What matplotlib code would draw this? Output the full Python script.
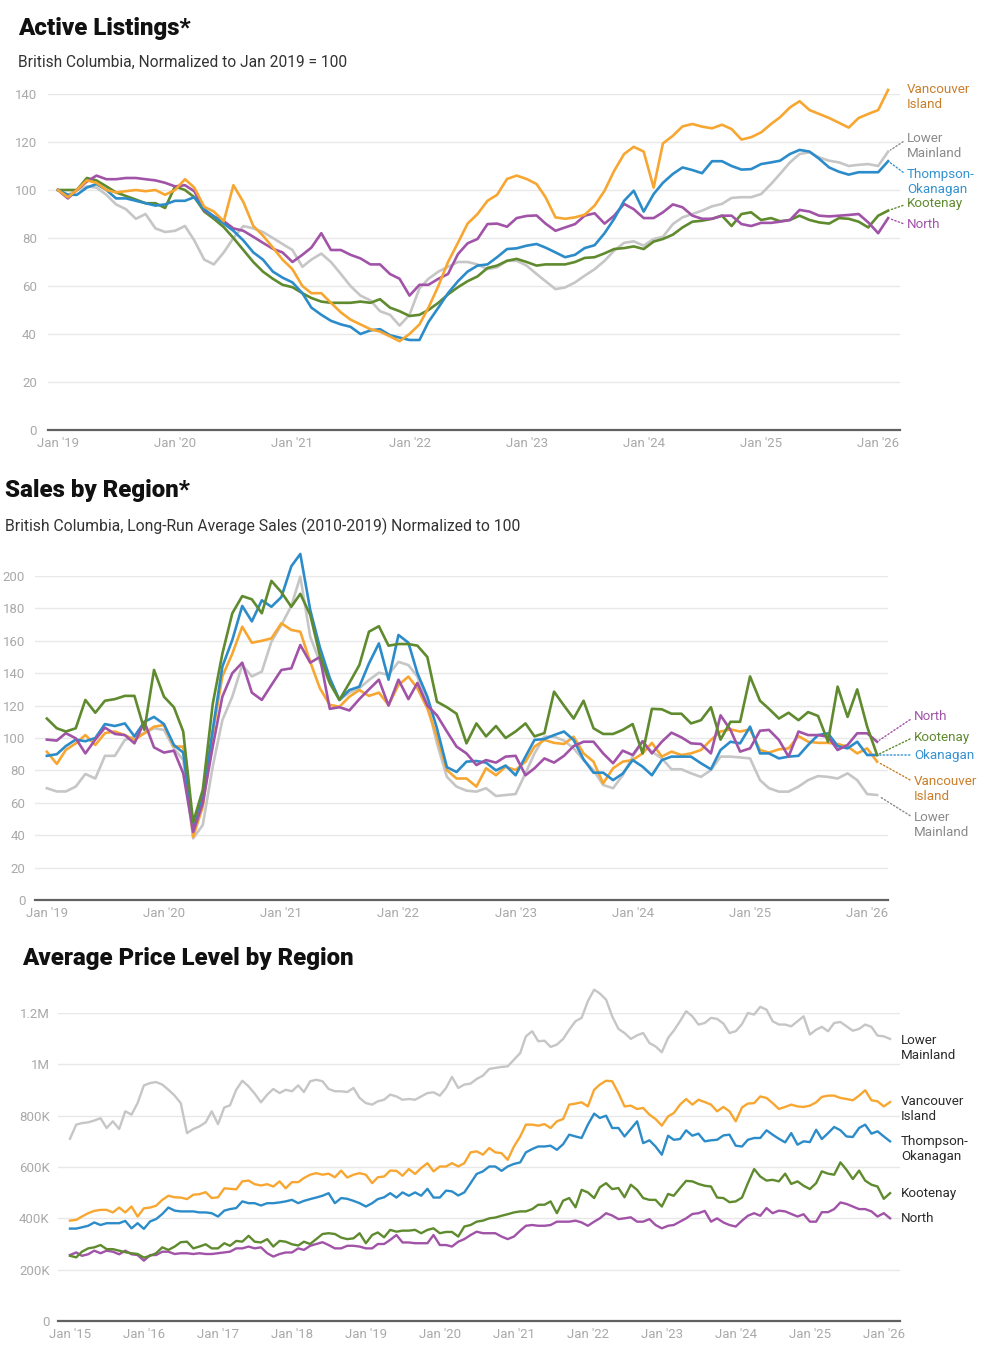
"""Trois panneaux BC : inscriptions actives, ventes, prix moyen par region."""
import numpy as np
import pandas as pd
import matplotlib
matplotlib.use("Agg")
import matplotlib.pyplot as plt
import matplotlib.dates as mdates
from matplotlib.ticker import FuncFormatter

plt.rcParams["font.family"] = ["Roboto", "DejaVu Sans"]

W, H = 992, 1359

# --- Couleurs (ligne, etiquette) ---
C_VI, C_VI_T = "#F7A731", "#C97E2A"
C_LM, C_LM_T = "#C6C6C6", "#8A8A8A"
C_TO, C_TO_T = "#2C8CC9", "#3592D0"
C_KO, C_KO_T = "#5F8A2E", "#5F8A2E"
C_NO, C_NO_T = "#A153A8", "#A153A8"

# --- Active listings (Jan 2019 = 100), mensuel ---
listing_months = pd.date_range("2019-01-01", periods=86, freq="MS")
listings_vi = [100, 97, 100, 104, 103, 100, 99, 99.5, 100, 99.5, 100, 98, 100, 104.5, 101, 93, 91, 87,
               102, 95, 85, 81, 76, 71, 67, 60, 57, 57, 53, 49, 46, 44, 42, 41, 39, 37, 40, 44, 51, 60,
               70, 78, 86, 90, 95.5, 98, 104.6, 106, 104.6, 102.5, 97, 88.6, 88, 88.6, 89.7, 93.5, 99.7,
               108, 115, 118, 116, 101, 119.4, 122.6, 126.5, 127.5, 126.4, 125.7, 127.2, 125.4, 121, 122,
               124, 127.5, 130.3, 134.4, 137, 133.3, 131.7, 130, 128, 126, 130, 131.7, 133.3, 141.7]
listings_lm = [100, 98, 100, 101.5, 101, 98, 94, 92, 88, 90, 84, 82.5, 83, 85, 79, 71, 69, 74, 80, 85,
               84, 82.5, 80, 77.5, 75, 68, 71, 73.5, 70, 65, 60, 56, 54, 49.5, 48, 43.5, 48, 59, 63, 66,
               68, 70, 70, 69, 67, 67.8, 70.5, 70.5, 68.5, 65, 62, 58.7, 59.4, 61.5, 64.3, 67, 70.5, 74.7,
               78, 78.6, 76.8, 79.6, 80.5, 85.8, 88.6, 90, 91.4, 93.2, 94.2, 96.7, 97, 97, 98.3, 102.5,
               106.7, 111.5, 115, 115.7, 113.6, 112.2, 111.5, 110, 110.5, 110.8, 110, 116]
listings_to = [100, 98, 98, 101, 102.5, 100, 96.5, 96.5, 95.5, 94.5, 93.5, 94, 95.5, 95.5, 97, 92, 89,
               86, 83, 79, 74, 71, 66, 63.5, 61.5, 57, 51, 48, 45.5, 44, 43, 40, 41.5, 42, 39.5, 38.5,
               37.5, 37.5, 45, 51, 57, 62, 66, 68.5, 69, 72, 75.4, 75.7, 76.8, 77.5, 76, 74, 72, 73, 75.8,
               77, 82, 88, 95.5, 99.7, 91, 98.3, 103, 106.7, 109.4, 108.3, 107, 112, 112, 110, 108.5,
               108.7, 110.8, 111.5, 112.2, 115, 116.7, 116, 113, 109.4, 107.6, 106.4, 107.4, 107.4,
               107.4, 112]
listings_ko = [100, 100, 100, 105, 104, 101.5, 99, 97.5, 96, 94.5, 94.5, 92.5, 101.5, 100, 97, 91, 88,
               84.5, 80, 75, 70, 66, 63, 60.5, 59.5, 57, 55, 53.5, 53, 53, 53, 53.5, 53, 54.5, 51, 49.5,
               47.5, 48, 50, 53, 56.5, 59.5, 62, 64, 67.5, 68.5, 70.5, 71.3, 70, 68.5, 69, 69, 69, 70,
               71.7, 72, 73.6, 75.4, 75.8, 76.5, 75.4, 78.5, 79.6, 81.4, 84.4, 86.8, 87.2, 88, 89.3, 85,
               90, 90.7, 87.5, 88.3, 87, 87.5, 89.3, 87.5, 86.5, 86, 88.3, 88, 86.8, 84.4, 89.3, 91.4]
listings_no = [100, 96.5, 100, 103.5, 106, 104.5, 104.5, 105, 105, 104.5, 104, 103, 101.5, 102, 99.5,
               91.5, 89, 87, 84, 83, 80.5, 78, 75.5, 74, 70, 73, 76, 82, 75, 75, 73, 71.5, 69, 69, 65,
               63, 56, 60.5, 60.5, 63, 65, 73.3, 77.8, 79.6, 85.8, 86, 84.7, 88.3, 89.2, 89.4, 86, 83,
               84.4, 85.8, 89.3, 90.3, 86, 89.3, 94.2, 92, 88.3, 88.3, 90.7, 94, 92.8, 89.3, 88, 88,
               89.3, 89.3, 85.8, 85, 86.3, 86.3, 86.8, 87.5, 91.7, 91, 89.3, 89, 89.3, 89.6, 90, 86.5,
               82, 88.3]

# --- Sales (moyenne 2010-2019 = 100), mensuel ---
sales_months = pd.date_range("2019-01-01", periods=86, freq="MS")
sales_vi = [91.5, 84, 92.6, 96.7, 101.8, 95.7, 103, 104, 101.8, 98.8, 103, 107, 108, 94.7, 94.7, 39,
            57.6, 103, 138, 152, 168.7, 158.8, 160, 161.5, 170.8, 166.7, 165.6, 147, 130.7, 120.4, 119.3,
            125.5, 129.6, 126, 128, 120.4, 132.7, 137.9, 130.7, 118.3, 100.8, 80.2, 75, 75, 70, 81.3, 77,
            82.3, 80.2, 85.4, 94.7, 98.8, 97, 96.3, 100.8, 90.5, 85.4, 72, 81.3, 85.4, 86.4, 90.5, 97,
            88.5, 91.6, 89.5, 90.5, 92.6, 98.8, 104, 105.3, 104, 105.3, 92.6, 91, 93, 93.6, 101.2, 97.7,
            97, 97, 96.3, 94.7, 90.5, 93.6, 85.4]
sales_lm = [69, 67, 67, 70, 77.8, 75, 89, 89, 98.8, 100.8, 103, 106, 105, 93.6, 86.4, 38, 46.3, 82.3,
            111, 125.5, 145, 138, 141, 159.5, 169.8, 181.5, 199.6, 162.5, 147, 133.7, 123.5, 128, 130.7,
            135.8, 140.3, 139, 147, 145, 137.9, 121.4, 96.7, 76, 70, 67.5, 66.9, 69, 64.2, 64.8, 65.4,
            78.2, 90.5, 100.8, 100.8, 98.4, 93.6, 86.4, 80.2, 71, 69, 77, 88.5, 97.7, 91.6, 87.4, 80.7,
            80.7, 78.2, 76, 80.2, 88.5, 88.5, 88, 87.4, 74, 69, 66.9, 66.9, 70, 74, 76.5, 76, 75, 78.2,
            74, 65.4, 64.8]
sales_to = [89, 90, 95, 99, 98, 100, 108.6, 107.4, 109, 101, 110, 113, 108.6, 95.7, 91, 43, 64, 105,
            144, 160.5, 181.5, 172, 185, 181, 187, 206, 213.6, 179, 156, 137, 123.5, 129.6, 131.7, 146,
            158.4, 136, 163.6, 158.8, 140, 125.5, 106, 82, 79, 85.4, 85.8, 84.8, 80, 83, 77, 88.5, 98.8,
            99.4, 101.8, 104, 98.8, 86.8, 78.6, 78.6, 74, 78, 86.4, 82.3, 77, 86.4, 88.5, 88.5, 88.5,
            84.4, 80.7, 92.6, 97.7, 96.7, 107, 90.5, 90.5, 87.4, 88.5, 89, 95.7, 101.8, 102.9, 95, 93.6,
            97.7, 89.5, 89.5]
sales_ko = [112, 106, 104, 106, 123.5, 115.6, 123, 124, 126, 126, 105, 142, 125.5, 119, 104, 48, 68,
            121, 152, 177, 187.6, 185.6, 177, 197, 190, 181, 189, 176, 151, 134, 123.5, 134, 145, 165.6,
            169, 157, 158, 158, 157, 150, 122.4, 119, 115, 96.7, 109, 101, 107.4, 100, 104, 109, 101,
            103, 128.6, 120, 112, 123, 106, 102.5, 102.5, 105, 108.6, 90.5, 118, 117.7, 115, 115, 109,
            111, 119, 99, 110, 110, 138, 123, 118, 112, 115.6, 111, 116, 113.6, 97.7, 131.7, 113, 130,
            107, 89.5]
sales_no = [99, 98.4, 103, 99.8, 90.5, 99, 106.4, 102.5, 101.8, 96.7, 110, 94.2, 91, 92.2, 78.2, 42,
            59.7, 94.7, 125.5, 140, 146.5, 128, 123.5, 132.7, 142, 143, 157.4, 146.5, 150, 118, 119, 117,
            124, 130, 136, 120, 136, 124, 134, 120, 114, 104, 94.7, 90.5, 83.3, 86.4, 84.8, 88.5, 89, 77,
            81.3, 87.4, 84.8, 89, 95, 97.7, 97.7, 90.5, 84.4, 92.2, 89.5, 98, 90.5, 97.7, 103.3, 100.4,
            96.7, 96.3, 90.5, 114, 105, 91.6, 93.6, 104.5, 105, 98.8, 88.5, 104, 101.8, 101.8, 100.8,
            92.6, 95.7, 102.9, 102.9, 97.7]

# --- Prix moyen (milliers de $), mensuel ---
price_months = pd.date_range("2015-01-01", periods=134, freq="MS")
price_lm = [710, 765, 771, 774, 781, 790, 752, 778, 748, 817, 804, 849, 918, 927, 931, 921, 901, 878,
            849, 732, 748, 758, 774, 817, 767, 832, 840, 901, 936, 914, 886, 852, 882, 904, 888, 901,
            895, 918, 892, 934, 940, 934, 904, 895, 895, 892, 908, 869,
            849, 843, 856, 862, 882, 875, 862, 865, 862, 875, 888, 891, 878, 908, 951, 908, 921, 925,
            943, 956, 982, 986, 990, 992, 1018, 1044, 1109, 1129, 1090, 1092, 1068, 1077, 1099, 1135,
            1168, 1181, 1246, 1291, 1276, 1252, 1187, 1138, 1122, 1099, 1113,
            1122, 1083, 1070, 1047, 1103, 1131, 1168, 1207, 1187, 1155, 1161, 1181, 1177, 1159, 1122,
            1129, 1157, 1200, 1194, 1224, 1213, 1168, 1155, 1155, 1148, 1168, 1187, 1116, 1135, 1146,
            1129, 1161, 1165, 1148, 1131, 1138, 1155, 1146, 1112, 1109, 1099]
price_vi = [391, 394, 407, 420, 429, 433, 433, 423, 442, 423, 446, 407, 439, 442, 449, 472, 488, 482,
            481, 475, 492, 494, 502, 479, 482, 517, 515, 513, 544, 547, 533, 528, 533, 524, 544, 517,
            541, 541, 557, 570, 576, 570, 574, 560, 586, 559, 570, 576,
            570, 537, 560, 563, 586, 585, 566, 592, 573, 596, 615, 583, 602, 602, 615, 602, 615, 657,
            661, 648, 674, 657, 654, 628, 680, 719, 765, 765, 761, 767, 752, 778, 787, 843, 847, 852,
            836, 901, 921, 936, 934, 888, 836, 839, 826,
            830, 804, 787, 761, 797, 810, 843, 865, 843, 862, 853, 843, 817, 834, 817, 778, 832, 847,
            849, 875, 869, 849, 826, 834, 843, 836, 834, 839, 852, 873, 878, 878, 869, 865, 860, 878,
            899, 860, 856, 836, 853]
price_to = [360, 360, 365, 371, 384, 374, 381, 381, 381, 390, 361, 381, 359, 388, 397, 417, 442, 430,
            427, 427, 427, 423, 423, 420, 407, 430, 436, 440, 466, 459, 459, 450, 459, 459, 462, 466,
            472, 459, 468, 475, 481, 488, 498, 459, 479, 476, 468, 459,
            446, 459, 475, 482, 498, 481, 501, 488, 501, 488, 515, 481, 481, 508, 505, 489, 501, 537,
            573, 583, 602, 602, 585, 602, 612, 618, 657, 670, 680, 680, 683, 667, 689, 726, 719, 713,
            765, 808, 791, 800, 752, 752, 719, 748, 778,
            693, 704, 680, 648, 722, 706, 709, 743, 722, 730, 700, 704, 706, 723, 726, 683, 680, 706,
            713, 713, 743, 726, 710, 696, 732, 687, 700, 697, 745, 709, 732, 756, 743, 719, 717, 752,
            765, 730, 739, 719, 700]
price_ko = [254, 248, 270, 283, 287, 296, 280, 280, 274, 268, 264, 261, 247, 254, 264, 287, 277, 290,
            307, 309, 283, 290, 299, 283, 283, 303, 293, 312, 309, 332, 309, 306, 319, 290, 312, 309,
            299, 294, 309, 300, 319, 339, 342, 339, 325, 319, 322, 342,
            303, 335, 345, 326, 355, 348, 352, 352, 355, 342, 355, 361, 342, 347, 347, 329, 368, 374,
            387, 391, 400, 403, 410, 416, 423, 427, 427, 436, 453, 453, 466, 420, 469, 479, 443, 511,
            501, 479, 521, 537, 514, 518, 482, 531, 511,
            479, 472, 472, 446, 495, 488, 518, 546, 544, 534, 527, 524, 481, 479, 463, 466, 481, 537,
            592, 563, 547, 550, 544, 574, 534, 544, 527, 514, 537, 583, 574, 570, 618, 589, 553, 586,
            547, 531, 524, 476, 498]
price_no = [257, 267, 254, 260, 274, 264, 274, 270, 260, 274, 260, 257, 235, 257, 257, 270, 270, 261,
            264, 264, 261, 264, 261, 261, 264, 267, 270, 283, 283, 290, 283, 287, 264, 251, 261, 267,
            267, 283, 277, 293, 300, 307, 296, 283, 283, 293, 293, 290,
            283, 283, 300, 300, 316, 335, 306, 306, 303, 303, 303, 335, 296, 296, 290, 309, 319, 335,
            348, 342, 342, 342, 329, 319, 329, 352, 371, 374, 371, 371, 374, 387, 387, 387, 391, 384,
            371, 387, 400, 420, 411, 397, 400, 404, 387,
            387, 397, 374, 361, 371, 374, 387, 400, 417, 420, 429, 387, 400, 384, 374, 368, 391, 410,
            420, 410, 440, 420, 430, 427, 417, 407, 416, 387, 387, 424, 424, 436, 462, 456, 446, 436,
            436, 427, 407, 420, 400]

TICK_C = "#A9A9A9"


def px_axes(fig, left, top, right, bottom):
    """Axes place en pixels (origine en haut a gauche)."""
    return fig.add_axes([left / W, 1 - bottom / H, (right - left) / W, (bottom - top) / H])


def style_axes(ax, months, pad_left_days, pad_right_days, yticks, ypad):
    ax.set_xlim(months[0] - pd.Timedelta(days=pad_left_days),
                months[-1] + pd.Timedelta(days=pad_right_days))
    ax.set_ylim(yticks[0], yticks[-1])
    ax.set_yticks(yticks)
    ax.xaxis.set_major_locator(mdates.MonthLocator(bymonth=1))
    ax.xaxis.set_major_formatter(mdates.DateFormatter("Jan '%y"))
    for s in ("top", "right", "left"):
        ax.spines[s].set_visible(False)
    ax.spines["bottom"].set_color("#616161")
    ax.spines["bottom"].set_linewidth(1.6)
    ax.grid(axis="y", color="#E8E8E8", lw=1.0)
    ax.set_axisbelow(True)
    ax.tick_params(axis="both", length=0, labelsize=9.5, labelcolor=TICK_C)
    ax.tick_params(axis="y", pad=ypad)
    ax.tick_params(axis="x", pad=5)


def label(ax, x, y, text, color, px, py, leader=True, rel=(0, 0.5)):
    props = None
    if leader:
        props = dict(arrowstyle="-", ls=(0, (1, 1.6)), color=color, lw=1.0,
                     shrinkA=1, shrinkB=2, relpos=rel)
    ax.annotate(text, xy=(x, y), xycoords="data", xytext=(px, H - py),
                textcoords="figure pixels", ha="left", va="center", fontsize=9.6,
                color=color, linespacing=1.15, arrowprops=props, annotation_clip=False)


def title(x, y, text):
    fig.text(x / W, 1 - y / H, text, fontsize=17.3, fontweight="heavy",
             color="#111111", va="center", ha="left")


def subtitle(x, y, text, size):
    fig.text(x / W, 1 - y / H, text, fontsize=size, color="#333333", va="center", ha="left")


fig = plt.figure(figsize=(W / 100, H / 100), dpi=100)
fig.patch.set_facecolor("white")

# ================= Panneau 1 : Active Listings =================
title(18, 28, "Active Listings*")
subtitle(18, 62, "British Columbia, Normalized to Jan 2019 = 100", 11.2)
ax1 = px_axes(fig, 48, 94, 900, 430)
series1 = [(listings_vi, C_VI), (listings_lm, C_LM), (listings_to, C_TO),
           (listings_ko, C_KO), (listings_no, C_NO)]
for vals, col in [series1[1], series1[3], series1[4], series1[2], series1[0]]:
    ax1.plot(listing_months, vals, color=col, lw=1.9, clip_on=False, solid_joinstyle="round")
style_axes(ax1, listing_months, 31, 37, [0, 20, 40, 60, 80, 100, 120, 140], 8)
last1 = listing_months[-1]
label(ax1, last1, listings_vi[-1], "Vancouver\nIsland", C_VI_T, 907, 97, leader=False)
label(ax1, last1, listings_lm[-1], "Lower\nMainland", C_LM_T, 907, 146, rel=(0, 0.75))
label(ax1, last1, listings_to[-1], "Thompson-\nOkanagan", C_TO_T, 907, 182, rel=(0, 0.75))
label(ax1, last1, listings_ko[-1], "Kootenay", C_KO_T, 907, 204)
label(ax1, last1, listings_no[-1], "North", C_NO_T, 907, 225)

# ================= Panneau 2 : Sales by Region =================
title(5, 491, "Sales by Region*")
subtitle(5, 526, "British Columbia, Long-Run Average Sales (2010-2019) Normalized to 100", 11.3)
ax2 = px_axes(fig, 35, 576, 888, 900)
for vals, col in [(sales_lm, C_LM), (sales_vi, C_VI), (sales_to, C_TO),
                  (sales_no, C_NO), (sales_ko, C_KO)]:
    ax2.plot(sales_months, vals, color=col, lw=1.9, clip_on=False, solid_joinstyle="round")
style_axes(ax2, sales_months, 37, 34, [0, 20, 40, 60, 80, 100, 120, 140, 160, 180, 200], 7)
last2 = sales_months[-1]
label(ax2, last2, sales_no[-1], "North", C_NO_T, 914, 717)
label(ax2, last2, sales_ko[-1], "Kootenay", C_KO_T, 914, 737)
label(ax2, last2, sales_to[-1], "Okanagan", C_TO_T, 914, 755)
label(ax2, last2, sales_vi[-1], "Vancouver\nIsland", C_VI_T, 914, 789, rel=(0, 0.75))
label(ax2, last2, sales_lm[-1], "Lower\nMainland", C_LM_T, 914, 825, rel=(0, 0.75))

# ================= Panneau 3 : Average Price Level =================
title(22, 959, "Average Price Level by Region")
ax3 = px_axes(fig, 58, 1013, 900, 1321)
for vals, col in [(price_lm, C_LM), (price_no, C_NO), (price_ko, C_KO),
                  (price_to, C_TO), (price_vi, C_VI)]:
    ax3.plot(price_months, vals, color=col, lw=1.7, clip_on=False, solid_joinstyle="round")
style_axes(ax3, price_months, 59, 49, [0, 200, 400, 600, 800, 1000, 1200], 6)


def money(v, _pos):
    if v == 0:
        return "0"
    if v >= 1000:
        return f"{v / 1000:g}M"
    return f"{v:g}K"


ax3.yaxis.set_major_formatter(FuncFormatter(money))
last3 = price_months[-1]
TXT3 = "#2B2B2B"
label(ax3, last3, price_lm[-1], "Lower\nMainland", TXT3, 901, 1048, leader=False)
label(ax3, last3, price_vi[-1], "Vancouver\nIsland", TXT3, 901, 1109, leader=False)
label(ax3, last3, price_to[-1], "Thompson-\nOkanagan", TXT3, 901, 1149, leader=False)
label(ax3, last3, price_ko[-1], "Kootenay", TXT3, 901, 1193, leader=False)
label(ax3, last3, price_no[-1], "North", TXT3, 901, 1218, leader=False)

fig.savefig("out.png", dpi=100, facecolor="white")
plt.close(fig)
